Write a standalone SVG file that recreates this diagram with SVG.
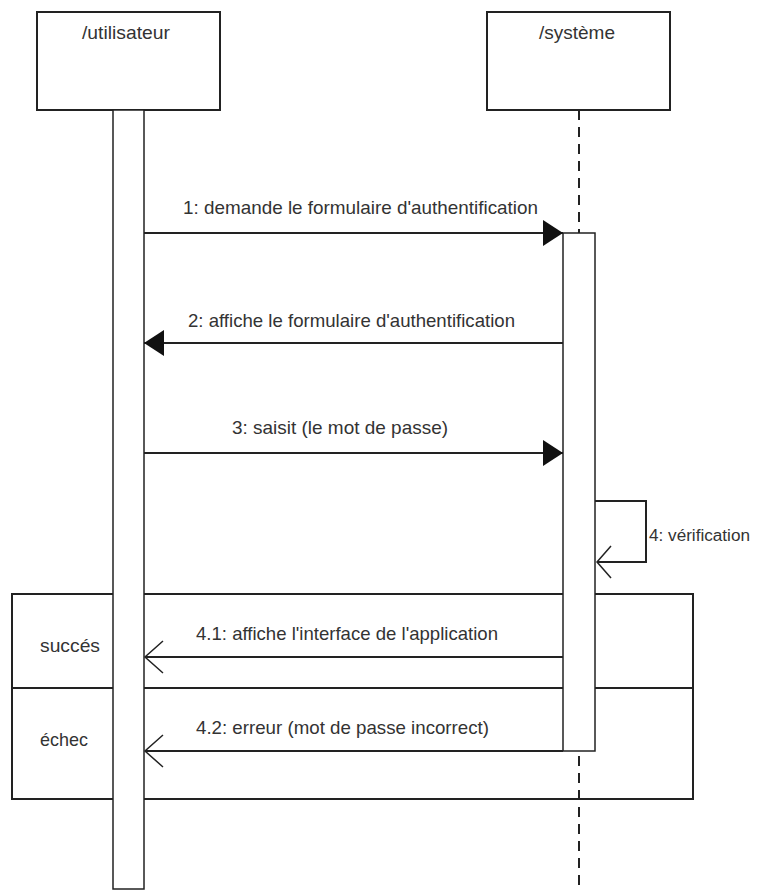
<svg xmlns="http://www.w3.org/2000/svg" width="758" height="891" viewBox="0 0 758 891">
  <style>
    .box { fill: #ffffff; stroke: #222; stroke-width: 2; }
    .bar { fill: #ffffff; stroke: #222; stroke-width: 1.5; }
    .msg { fill: none; stroke: #222; stroke-width: 2; }
    .life { fill: none; stroke: #222; stroke-width: 2; stroke-dasharray: 10 7; }
    .frag { fill: none; stroke: #222; stroke-width: 2; }
    .open { fill: none; stroke: #222; stroke-width: 1.5; }
    text { font-family: "Liberation Sans", Arial, sans-serif; font-size: 19px; fill: #333; }
    .side { font-size: 16px; }
  </style>
  <defs>
    <marker id="filled" viewBox="0 0 20 26" refX="20" refY="13" markerWidth="20" markerHeight="26" markerUnits="userSpaceOnUse" orient="auto">
      <path d="M0,0 L20,13 L0,26 Z" fill="#111"/>
    </marker>
  </defs>

  <!-- lifeline of /système -->
  <line class="life" x1="579" y1="110" x2="579" y2="891"/>

  <!-- combined fragment with two operands -->
  <g id="fragment">
    <rect class="frag" x="12" y="594" width="681" height="205"/>
    <line class="frag" x1="12" y1="688" x2="693" y2="688"/>
    <text x="40" y="652" textLength="60" lengthAdjust="spacingAndGlyphs">succés</text>
    <text x="40" y="746" textLength="48" lengthAdjust="spacingAndGlyphs">échec</text>
  </g>

  <g id="utilisateur">
    <rect class="box" x="37" y="12" width="183" height="98"/>
    <text x="82" y="39" textLength="88" lengthAdjust="spacingAndGlyphs">/utilisateur</text>
    <rect class="bar" x="113" y="110" width="31" height="779"/>
  </g>

  <g id="systeme">
    <rect class="box" x="487" y="12" width="183" height="98"/>
    <text x="539" y="39" textLength="76" lengthAdjust="spacingAndGlyphs">/système</text>
    <rect class="bar" x="563" y="233" width="32" height="518"/>
  </g>

  <g id="connectors">
    <!-- 1 -->
    <line class="msg" x1="144" y1="233" x2="563" y2="233" marker-end="url(#filled)"/>
    <text x="183" y="214" textLength="355" lengthAdjust="spacingAndGlyphs">1: demande le formulaire d'authentification</text>
    <!-- 2 -->
    <line class="msg" x1="563" y1="343" x2="144" y2="343" marker-end="url(#filled)"/>
    <text x="188" y="327" textLength="327" lengthAdjust="spacingAndGlyphs">2: affiche le formulaire d'authentification</text>
    <!-- 3 -->
    <line class="msg" x1="144" y1="453" x2="563" y2="453" marker-end="url(#filled)"/>
    <text x="232" y="434" textLength="216" lengthAdjust="spacingAndGlyphs">3: saisit (le mot de passe)</text>
    <!-- 4 self call -->
    <polyline class="msg" points="595,501 646,501 646,562 597,562"/>
    <polyline class="open" points="611,546 597,562 611,578"/>
    <text class="side" x="649" y="541" textLength="101" lengthAdjust="spacingAndGlyphs">4: vérification</text>
    <!-- 4.1 -->
    <line class="msg" x1="563" y1="657" x2="145" y2="657"/>
    <polyline class="open" points="163,641 145,657 163,673"/>
    <text x="196" y="640" textLength="302" lengthAdjust="spacingAndGlyphs">4.1: affiche l'interface de l'application</text>
    <!-- 4.2 -->
    <line class="msg" x1="563" y1="751" x2="145" y2="751"/>
    <polyline class="open" points="163,735 145,751 163,767"/>
    <text x="196" y="734" textLength="293" lengthAdjust="spacingAndGlyphs">4.2: erreur (mot de passe incorrect)</text>
  </g>
</svg>
